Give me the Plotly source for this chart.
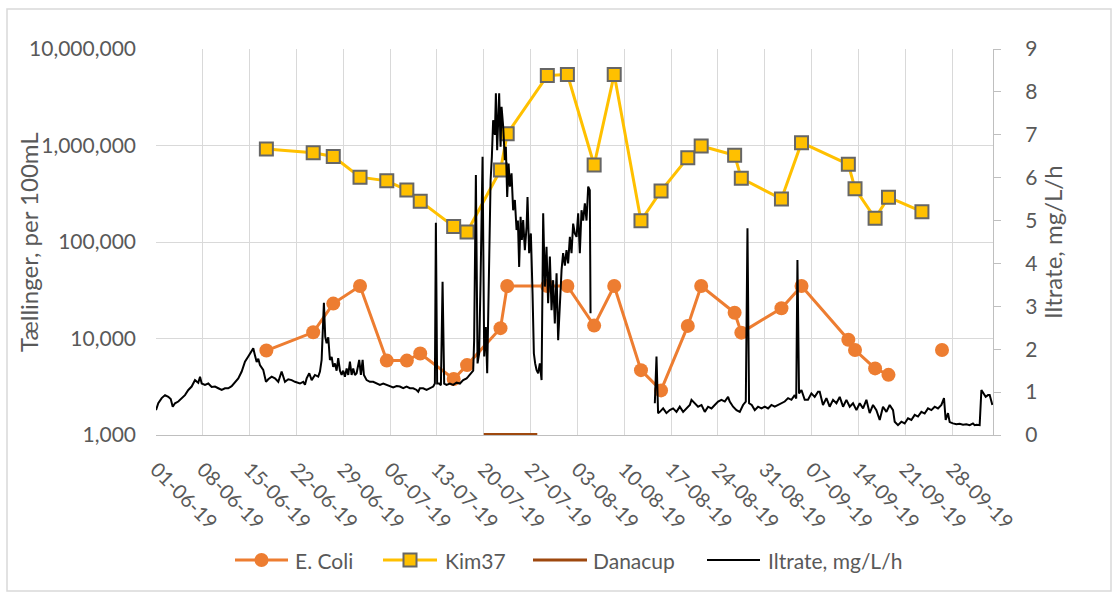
import pandas as pd
import plotly.graph_objects as go

# Sampling days (taken around midday) for the bacteria counts
sample_times = [
    "2019-06-17 12:00", "2019-06-24 12:00", "2019-06-27 12:00", "2019-07-01 12:00",
    "2019-07-05 12:00", "2019-07-08 12:00", "2019-07-10 12:00", "2019-07-15 12:00",
    "2019-07-17 12:00", "2019-07-22 12:00", "2019-07-23 12:00", "2019-07-29 12:00",
    "2019-08-01 12:00", "2019-08-05 12:00", "2019-08-08 12:00", "2019-08-12 12:00",
    "2019-08-15 12:00", "2019-08-19 12:00", "2019-08-21 12:00", "2019-08-26 12:00",
    "2019-08-27 12:00", "2019-09-02 12:00", "2019-09-05 12:00", "2019-09-12 12:00",
    "2019-09-13 12:00", "2019-09-16 12:00", "2019-09-18 12:00", "2019-09-23 12:00",
    "2019-09-26 12:00",
]

# E. coli, counts per 100 mL (no result on 23-09)
ecoli = [
    7500, 11600, 23000, 35000, 5900, 5900, 7000, 3800, 5300, 12800,
    35000, 35000, 35000, 13600, 35000, 4700, 2900, 13500, 35000, 18500,
    11500, 20600, 35000, 9700, 7600, 4900, 4200, None, 7600,
]

# Kim37, counts per 100 mL (no result on 26-09)
kim37 = [
    920000, 840000, 770000, 470000, 430000, 345000, 265000, 145000, 127000, 557000,
    1320000, 5300000, 5450000, 628000, 5450000, 166000, 338000, 748000, 989000, 793000,
    457000, 279000, 1070000, 639000, 357000, 176000, 291000, 206000, None,
]

# Danacup dosing period
danacup_times = ["2019-07-20", "2019-07-28"]
danacup = [0, 0]

# Oxygen uptake rate logger: days after 01-06-19 and rate in mg/L/h
iltrate_start = "2019-06-01"
iltrate_days = [
    0.00, 0.34, 0.85, 1.35, 1.84, 2.20, 2.50, 2.84, 3.33, 3.84,
    4.33, 4.83, 5.33, 5.83, 6.32, 6.58, 6.83, 7.32, 7.82, 8.32,
    8.82, 9.31, 9.82, 10.31, 10.80, 11.31, 11.80, 12.30, 12.81, 13.30,
    13.79, 14.30, 14.54, 14.79, 15.05, 15.29, 15.54, 16.03, 16.44, 16.78,
    17.29, 17.78, 18.28, 18.78, 19.28, 19.77, 20.28, 20.77, 21.26, 21.52,
    22.01, 22.27, 22.52, 22.91, 23.27, 23.76, 24.25, 24.51, 24.76, 25.10,
    25.30, 25.51, 25.75, 26.00, 26.26, 26.49, 26.75, 27.00, 27.24, 27.50,
    27.75, 27.99, 28.24, 28.50, 28.74, 28.99, 29.24, 29.48, 29.74, 29.99,
    30.38, 30.63, 30.89, 31.08, 31.49, 31.98, 32.47, 32.98, 33.47, 33.97,
    34.47, 34.96, 35.46, 35.97, 36.46, 36.95, 37.46, 37.96, 38.45, 38.96,
    39.20, 39.45, 39.94, 40.45, 40.94, 41.44, 41.69, 41.84, 42.03, 42.33,
    42.59, 42.84, 43.08, 43.44, 43.93, 44.43, 44.93, 45.43, 45.92, 46.43,
    46.67, 47.18, 47.42, 47.56, 47.82, 48.07, 48.31, 48.52, 48.82, 49.06,
    49.31, 49.51, 49.76, 50.02, 50.21, 50.40, 50.66, 50.81, 51.00, 51.15,
    51.30, 51.51, 51.66, 51.90, 52.15, 52.30, 52.50, 52.71, 52.90, 53.15,
    53.39, 53.65, 53.90, 54.10, 54.29, 54.50, 54.69, 54.89, 55.14, 55.40,
    55.54, 55.78, 56.04, 56.29, 56.49, 56.68, 56.89, 57.13, 57.38, 57.64,
    57.88, 58.13, 58.38, 58.62, 58.88, 59.13, 59.37, 59.62, 59.88, 60.12,
    60.37, 60.63, 60.86, 61.12, 61.37, 61.61, 61.87, 62.12, 62.36, 62.61,
    62.87, 63.11, 63.36, 63.61, 63.86, 64.11, 64.36, 64.61, 64.85, 64.96,
    70.00,
    74.57, 74.82, 75.06, 75.32, 75.81, 76.31, 76.81, 77.30, 77.81, 78.30,
    78.80, 79.30, 79.80, 80.05, 80.55, 81.04, 81.55, 82.04, 82.53, 83.04,
    83.53, 84.03, 84.53, 85.03, 85.52, 85.77, 86.27, 86.78, 87.27, 87.76,
    88.17, 88.42, 88.66, 89.06, 89.51, 90.00, 90.51, 91.00, 91.50, 92.00,
    92.50, 92.99, 93.50, 93.99, 94.49, 94.99, 95.48, 95.71, 95.89, 96.13,
    96.49, 96.98, 97.47, 97.98, 98.47, 98.97, 99.22, 99.71, 100.22, 100.71,
    101.21, 101.72, 102.21, 102.71, 103.21, 103.71, 104.20, 104.71, 105.20, 105.70,
    106.20, 106.69, 107.19, 107.69, 108.19, 108.68, 109.19, 109.68, 110.18, 110.43,
    110.92, 111.43, 111.92, 112.42, 112.92, 113.42, 113.91, 114.42, 114.91, 115.41,
    115.91, 116.41, 116.90, 117.41, 117.80, 118.05, 118.40, 118.65, 119.14, 119.65,
    120.14, 120.64, 121.14, 121.64, 122.13, 122.39, 122.68, 123.13, 123.39, 123.64,
    124.03, 124.38, 124.63, 125.03,
]
iltrate = [
    0.58, 0.74, 0.86, 0.93, 0.89, 0.84, 0.66, 0.74, 0.78, 0.86,
    0.93, 1.05, 1.13, 1.28, 1.22, 1.36, 1.20, 1.17, 1.20, 1.12,
    1.13, 1.09, 1.05, 1.09, 1.09, 1.14, 1.24, 1.32, 1.48, 1.71,
    1.83, 1.94, 2.02, 1.86, 1.70, 1.78, 1.63, 1.52, 1.24, 1.30,
    1.36, 1.32, 1.24, 1.48, 1.24, 1.30, 1.28, 1.24, 1.22, 1.20,
    1.24, 1.17, 1.32, 1.44, 1.28, 1.40, 1.36, 1.48, 1.75, 3.08,
    2.29, 2.14, 2.28, 1.75, 1.82, 1.59, 1.67, 1.50, 1.79, 1.50,
    1.40, 1.50, 1.36, 1.55, 1.40, 1.71, 1.40, 1.55, 1.40, 1.44,
    1.75, 1.40, 1.75, 1.40, 1.28, 1.24, 1.24, 1.20, 1.17, 1.20,
    1.17, 1.14, 1.11, 1.14, 1.13, 1.09, 1.13, 1.09, 1.09, 1.05,
    1.01, 1.09, 1.09, 1.05, 1.09, 1.13, 1.20, 4.95, 1.20, 1.20,
    1.16, 3.57, 1.20, 1.17, 1.20, 1.17, 1.22, 1.20, 1.28, 1.32,
    1.36, 1.44, 1.50, 2.21, 6.06, 1.67, 1.90, 3.61, 6.49, 1.83,
    2.52, 1.44, 3.61, 5.94, 6.49, 7.34, 7.00, 7.97, 6.64, 7.50,
    7.97, 6.72, 7.65, 7.19, 6.41, 6.72, 5.55, 6.33, 5.79, 6.10,
    5.24, 5.48, 4.78, 5.00, 3.92, 5.09, 4.55, 5.01, 4.31, 4.86,
    5.55, 4.24, 4.70, 3.30, 1.90, 1.67, 1.52, 1.44, 1.67, 1.28,
    5.17, 3.46, 4.39, 3.07, 4.16, 2.91, 3.61, 2.60, 3.77, 2.21,
    3.22, 3.85, 4.24, 3.95, 4.31, 4.00, 4.62, 4.24, 4.93, 4.70,
    4.62, 5.17, 4.24, 5.24, 5.00, 5.40, 5.00, 5.79, 5.71, 2.84,
    None,
    0.74, 1.83, 0.51, 0.54, 0.62, 0.51, 0.58, 0.62, 0.54, 0.66,
    0.54, 0.62, 0.70, 0.82, 0.74, 0.66, 0.70, 0.54, 0.66, 0.62,
    0.70, 0.78, 0.82, 0.78, 0.89, 0.78, 0.66, 0.58, 0.54, 0.70,
    0.78, 4.82, 0.74, 0.70, 0.58, 0.66, 0.62, 0.66, 0.62, 0.70,
    0.66, 0.70, 0.74, 0.78, 0.86, 0.82, 0.93, 0.85, 4.08, 0.97,
    1.05, 0.82, 0.82, 0.97, 0.89, 1.01, 1.01, 0.70, 0.86, 0.66,
    0.82, 0.74, 0.89, 0.66, 0.82, 0.66, 0.74, 0.58, 0.74, 0.62,
    0.82, 0.51, 0.70, 0.58, 0.35, 0.66, 0.54, 0.70, 0.58, 0.31,
    0.23, 0.31, 0.27, 0.39, 0.35, 0.47, 0.43, 0.54, 0.50, 0.62,
    0.58, 0.66, 0.62, 0.70, 0.86, 0.35, 0.51, 0.30, 0.27, 0.25,
    0.26, 0.24, 0.25, 0.23, 0.27, 0.23, 0.24, 0.23, 1.05, 0.98,
    0.89, 0.93, 0.93, 0.70,
]

# Axis labels
left_ticks = [1e3, 1e4, 1e5, 1e6, 1e7]
left_tick_text = ["1,000", "10,000", "100,000", "1,000,000", "10,000,000"]
left_title = "Tællinger, per 100mL"
right_title = "Iltrate, mg/L/h"

iltrate_times = pd.Timestamp(iltrate_start) + pd.to_timedelta(iltrate_days, unit="D")

FONT = "Lato, 'Open Sans', sans-serif"
GREY_TEXT = "#595959"
GRID = "#D9D9D9"
C_ECOLI = "#ED7D31"
C_KIM = "#FFC000"
C_KIM_EDGE = "#666666"
C_DANA = "#9E480E"
C_ILT = "#000000"

# Page layout in pixels: plot area spans x 156..993, y 49..435
W, H = 1119, 601
PL, PR, PT, PB = 156, 993, 49, 435


def px_x(px):
    return (px - PL) / (PR - PL)


def px_y(py):
    return (PB - py) / (PB - PT)


fig = go.Figure()
fig.add_trace(go.Scatter(
    x=sample_times, y=ecoli, name="E. Coli", mode="lines+markers",
    line=dict(color=C_ECOLI, width=3),
    marker=dict(symbol="circle", size=14, color=C_ECOLI),
    connectgaps=False,
))
fig.add_trace(go.Scatter(
    x=sample_times, y=kim37, name="Kim37", mode="lines+markers",
    line=dict(color=C_KIM, width=3),
    marker=dict(symbol="square", size=13, color=C_KIM,
                line=dict(color=C_KIM_EDGE, width=2)),
    connectgaps=False,
))
fig.add_trace(go.Scatter(
    x=danacup_times, y=danacup, name="Danacup", mode="lines",
    line=dict(color=C_DANA, width=4), yaxis="y2",
))
fig.add_trace(go.Scatter(
    x=iltrate_times, y=iltrate, name="Iltrate, mg/L/h", mode="lines",
    line=dict(color=C_ILT, width=2), yaxis="y2", connectgaps=False,
))

# Legend row drawn below the date labels
LEG_Y = 560
legend_items = [
    # (label, line start px, line end px, text start px, colour, marker)
    ("E. Coli", 235, 288, 293, C_ECOLI, "circle"),
    ("Kim37", 383, 437, 443, C_KIM, "square"),
    ("Danacup", 533, 587, 591, C_DANA, None),
    ("Iltrate, mg/L/h", 707, 760, 766, C_ILT, None),
]
shapes = [
    dict(type="rect", xref="paper", yref="paper",
         x0=px_x(7), x1=px_x(1111), y0=px_y(591), y1=px_y(9),
         line=dict(color="#D9D9D9", width=1.5), layer="below"),
]
annotations = [
    dict(text=left_title, textangle=-90, xref="paper", yref="paper",
         x=px_x(28), y=0.5, xanchor="center", yanchor="middle",
         showarrow=False, font=dict(size=24, color=GREY_TEXT)),
    dict(text=right_title, textangle=-90, xref="paper", yref="paper",
         x=px_x(1052), y=0.5, xanchor="center", yanchor="middle",
         showarrow=False, font=dict(size=24, color=GREY_TEXT)),
]
for label, lx0, lx1, tx, colour, marker in legend_items:
    lw = 2 if colour == C_ILT else 3
    shapes.append(dict(type="line", xref="paper", yref="paper",
                       x0=px_x(lx0), x1=px_x(lx1), y0=px_y(LEG_Y), y1=px_y(LEG_Y),
                       line=dict(color=colour, width=lw)))
    mx = (lx0 + lx1) / 2
    if marker == "circle":
        r = 7
        shapes.append(dict(type="circle", xref="paper", yref="paper",
                           x0=px_x(mx - r), x1=px_x(mx + r),
                           y0=px_y(LEG_Y + r), y1=px_y(LEG_Y - r),
                           fillcolor=colour, line=dict(color=colour, width=0)))
    elif marker == "square":
        r = 6.5
        shapes.append(dict(type="rect", xref="paper", yref="paper",
                           x0=px_x(mx - r), x1=px_x(mx + r),
                           y0=px_y(LEG_Y + r), y1=px_y(LEG_Y - r),
                           fillcolor=colour, line=dict(color=C_KIM_EDGE, width=2)))
    annotations.append(dict(text=label, xref="paper", yref="paper",
                            x=px_x(tx), y=px_y(LEG_Y), xanchor="left", yanchor="middle",
                            showarrow=False, font=dict(size=21, color=GREY_TEXT)))

fig.update_layout(
    width=W, height=H,
    margin=dict(l=PL, r=W - PR, t=PT, b=H - PB),
    paper_bgcolor="white", plot_bgcolor="white",
    font=dict(family=FONT, color=GREY_TEXT, size=20),
    showlegend=False,
    xaxis=dict(
        type="date",
        range=["2019-06-01", "2019-10-04 03:00"],
        tick0="2019-06-01", dtick=7 * 86400000,
        tickformat="%d-%m-%y", tickangle=45,
        showgrid=True, gridcolor=GRID, gridwidth=1,
        showline=True, linecolor="#BFBFBF", linewidth=1,
        ticks="", ticklabelstandoff=14,
        tickfont=dict(size=20, color=GREY_TEXT),
        zeroline=False,
    ),
    yaxis=dict(
        type="log", range=[3, 7],
        tickvals=left_ticks, ticktext=left_tick_text,
        showgrid=True, gridcolor=GRID, gridwidth=1,
        showline=False, zeroline=False, ticks="",
        ticklabelstandoff=19,
        tickfont=dict(size=21, color=GREY_TEXT),
    ),
    yaxis2=dict(
        overlaying="y", side="right", range=[0, 9], dtick=1,
        showgrid=False, zeroline=False,
        showline=True, linecolor="#BFBFBF", linewidth=1,
        ticks="outside", ticklen=7, tickcolor="#BFBFBF",
        ticklabelstandoff=20,
        tickfont=dict(size=21, color=GREY_TEXT),
    ),
    annotations=annotations,
    shapes=shapes,
)

fig.write_html("out.html")
